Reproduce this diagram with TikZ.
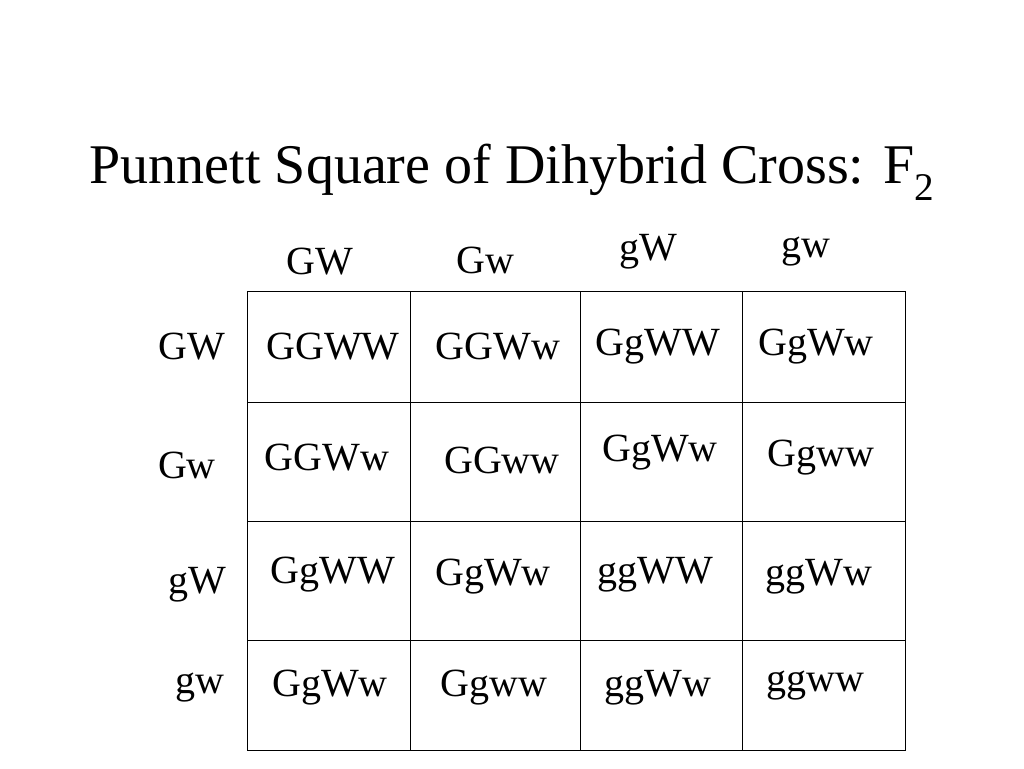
\documentclass[tikz,border=0pt]{standalone}
\usepackage{fontspec}
\setmainfont{Liberation Serif}
\begin{document}
\begin{tikzpicture}[x=1pt,y=-1pt,
  cell/.style={font=\fontsize{40}{40}\selectfont, inner sep=0pt},
  gam/.style={font=\fontsize{40}{40}\selectfont, inner sep=0pt}]
\useasboundingbox (0,0) rectangle (1024,768);
\node[inner sep=0pt, font=\fontsize{56}{56}\selectfont] (title) at (512,172) {Punnett Square of Dihybrid Cross: F\textsubscript{2}};

% grid
\draw[line width=1pt] (247,291) rectangle (905,750);
\foreach \x in {410,580,742}
  \draw[line width=1pt] (\x,291) -- (\x,750);
\foreach \y in {402,521,640}
  \draw[line width=1pt] (247,\y) -- (905,\y);

% gametes
\node[gam] (c1) at (320,262) {GW};
\node[gam] (c2) at (485,260) {Gw};
\node[gam] (c3) at (648,252) {gW};
\node[gam] (c4) at (806,252) {gw};
\node[gam] (r1) at (192,347) {GW};
\node[gam] (r2) at (187,465) {Gw};
\node[gam] (r3) at (197,585) {gW};
\node[gam] (r4) at (200,688) {gw};

% offspring
\node[cell] (a11) at (333,347) {GGWW};
\node[cell] (a12) at (498,347) {GGWw};
\node[cell] (a13) at (658,347) {GgWW};
\node[cell] (a14) at (816,347) {GgWw};
\node[cell] (a21) at (327,458) {GGWw};
\node[cell] (a22) at (502,460) {GGww};
\node[cell] (a23) at (660,453) {GgWw};
\node[cell] (a24) at (821,458) {Ggww};
\node[cell] (a31) at (333,575) {GgWW};
\node[cell] (a32) at (493,577) {GgWw};
\node[cell] (a33) at (655,575) {ggWW};
\node[cell] (a34) at (819,577) {ggWw};
\node[cell] (a41) at (330,688) {GgWw};
\node[cell] (a42) at (494,688) {Ggww};
\node[cell] (a43) at (658,688) {ggWw};
\node[cell] (a44) at (815,686) {ggww};
\end{tikzpicture}
\end{document}
